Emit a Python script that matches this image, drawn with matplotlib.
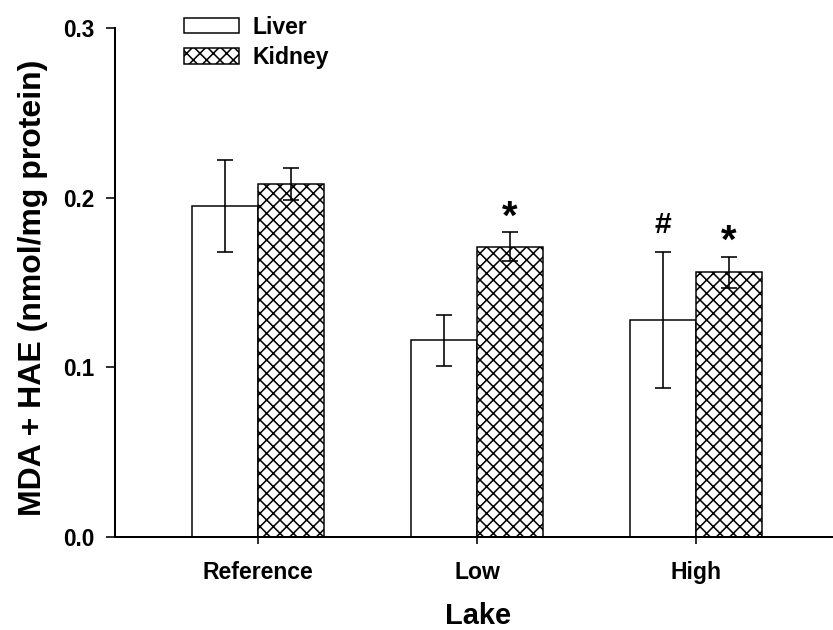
import numpy as np
import matplotlib
matplotlib.use("Agg")
import matplotlib.pyplot as plt

# data
lakes = ["Reference", "Low", "High"]
liver = [0.195, 0.116, 0.128]
liver_err = [0.027, 0.015, 0.040]
kidney = [0.208, 0.171, 0.156]
kidney_err = [0.0095, 0.0085, 0.0093]
# significance marks: (symbol, lake index, tissue)
marks = [("*", 1, "kidney"), ("#", 2, "liver"), ("*", 2, "kidney")]

DPI = 80
PT = 72.0 / DPI  # pixels -> points

plt.rcParams['font.family'] = ['Liberation Sans', 'DejaVu Sans']
plt.rcParams['font.weight'] = 'bold'
plt.rcParams['hatch.linewidth'] = 1.4

fig = plt.figure(figsize=(833 / DPI, 630 / DPI), dpi=DPI)
ax = fig.add_axes([115 / 833, 93 / 630, 718 / 833, 509 / 630])

x = np.arange(len(lakes))
w = 0.3
b1 = ax.bar(x - w / 2, liver, w, color='white', edgecolor='black',
            linewidth=1.5 * PT, label='Liver', zorder=2)
b2 = ax.bar(x + w / 2, kidney, w, color='white', edgecolor='black',
            hatch='xx', linewidth=1.5 * PT, label='Kidney', zorder=2)

ax.errorbar(x - w / 2, liver, yerr=liver_err, fmt='none', ecolor='black',
            elinewidth=1.6 * PT, capsize=8 * PT, capthick=1.6 * PT, zorder=3)
ax.errorbar(x + w / 2, kidney, yerr=kidney_err, fmt='none', ecolor='black',
            elinewidth=1.6 * PT, capsize=8 * PT, capthick=1.6 * PT, zorder=3)

# symbol above the error bar
for sym, i, tissue in marks:
    if tissue == "liver":
        xs, top = i - w / 2, liver[i] + liver_err[i]
    else:
        xs, top = i + w / 2, kidney[i] + kidney_err[i]
    if sym == "*":
        size, off = 40, 4
    else:
        size, off = 30, 19
    ax.annotate(sym, xy=(xs, top), xytext=(0, off), textcoords='offset pixels',
                ha='center', va='baseline', fontsize=size * PT, fontweight='bold')

ax.set_xlim(-0.653, 2.626)
ax.set_ylim(0, 0.3)
ax.set_yticks([0.0, 0.1, 0.2, 0.3])
ax.set_yticklabels(["0.0", "0.1", "0.2", "0.3"])
ax.set_xticks(x)
ax.set_xticklabels(lakes)

ax.spines['top'].set_visible(False)
ax.spines['right'].set_visible(False)
ax.spines['left'].set_linewidth(2 * PT)
ax.spines['bottom'].set_linewidth(2 * PT)
ax.tick_params(axis='y', direction='out', length=9 * PT, width=1.6 * PT,
               pad=12 * PT, labelsize=22.5 * PT)
ax.tick_params(axis='x', direction='out', length=7 * PT, width=1.6 * PT,
               pad=17 * PT, labelsize=23 * PT)

ax.set_ylabel("MDA + HAE (nmol/mg protein)", fontsize=32 * PT, fontweight='bold')
ax.yaxis.set_label_coords(-0.093, 0.49)
ax.set_xlabel("Lake", fontsize=29 * PT, fontweight='bold')
ax.xaxis.label.set_va('baseline')
ax.xaxis.set_label_coords(0.505, -0.171)

ax.legend(handles=[b1, b2], loc='upper left', bbox_to_anchor=(0.096, 1.024),
          frameon=False, fontsize=23 * PT, borderpad=0, borderaxespad=0,
          handlelength=2.4, handleheight=0.65, handletextpad=0.6,
          labelspacing=0.32)

fig.savefig("out.png", dpi=DPI)
